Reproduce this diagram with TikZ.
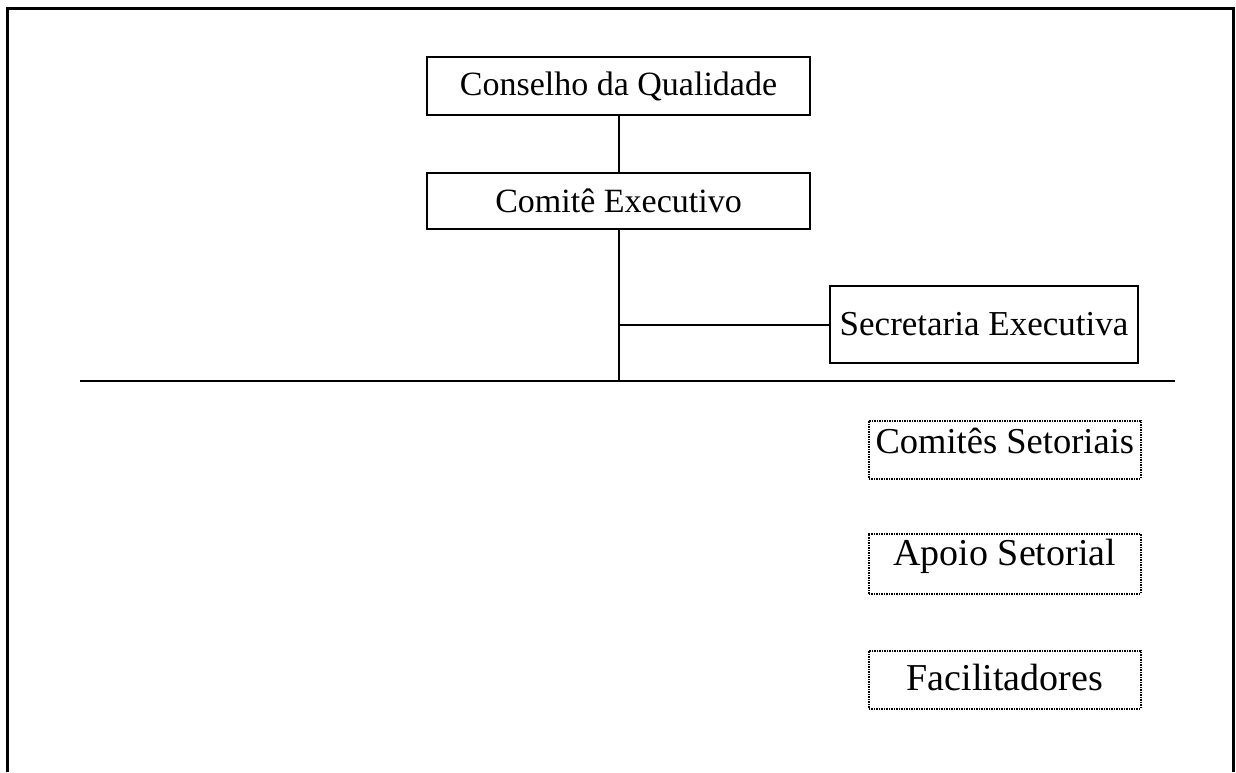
\documentclass[tikz,border=0pt]{standalone}
\usepackage{fontspec}
\setmainfont{Liberation Serif}
\begin{document}
\begin{tikzpicture}[x=1pt,y=-1pt,
  solidbox/.style={draw, line width=2pt, rectangle, inner sep=0pt, anchor=north west},
  dotbox/.style={draw, line width=1.6pt, dash pattern=on 1.6pt off 0.9pt, rectangle, inner sep=0pt, anchor=north west, text height=28pt},
  link/.style={line width=2pt},
  topfont/.style={font=\fontsize{34}{40}\selectfont},
  midfont/.style={font=\fontsize{35}{42}\selectfont},
  lowfont/.style={font=\fontsize{38}{44}\selectfont},
  narrowfont/.style={font=\fontsize{36.5}{44}\selectfont}]
\useasboundingbox (0,0) rectangle (1236,772);
% outer frame, open at the bottom
\draw[line width=3pt] (7.5,772) -- (7.5,8.5) -- (1233.5,8.5) -- (1233.5,772);

% upper hierarchy
\node[solidbox, topfont, minimum width=383pt, minimum height=58pt] (cq) at (426,56) {Conselho da Qualidade};
\node[solidbox, topfont, minimum width=383pt, minimum height=56pt] (ce) at (426,172) {Comitê Executivo};
\node[solidbox, midfont, minimum width=308pt, minimum height=77pt] (se) at (829,285) {Secretaria Executiva};

% sector level
\node[dotbox, narrowfont, text depth=20pt, minimum width=272pt, minimum height=58pt] (cs) at (868,420) {Comitês Setoriais};
\node[dotbox, lowfont, text depth=24pt, minimum width=272pt, minimum height=60pt] (as) at (868,533) {Apoio Setorial};
\node[dotbox, lowfont, text depth=7pt, minimum width=272pt, minimum height=58pt] (fa) at (868,650) {Facilitadores};

% connectors
\coordinate (bl) at (80,381);
\coordinate (br) at (1175,381);
\draw[link] (bl) -- (br);
\draw[link] (cq.south) -- (ce.north);
\draw[link] (ce.south) -- (ce.south |- bl);
\draw[link] (se.west) -- (se.west -| ce.south);
\end{tikzpicture}
\end{document}
